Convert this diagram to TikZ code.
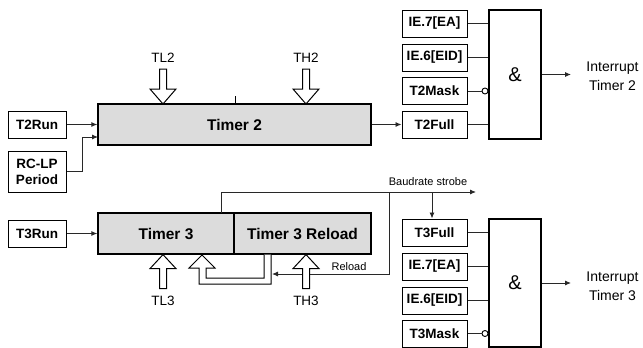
\documentclass[tikz,border=0pt]{standalone}
\usepackage{fontspec}
\setmainfont{Liberation Sans}
\usetikzlibrary{arrows.meta}
\definecolor{timergray}{RGB}{220,220,220}
\definecolor{linegray}{RGB}{40,40,40}
\newcommand{\dnblk}[2]{\draw[blk] (#1-3.5,#2) -- (#1+3.5,#2) -- (#1+3.5,#2+20) -- (#1+13,#2+20) -- (#1,#2+35) -- (#1-13,#2+20) -- (#1-3.5,#2+20) -- cycle;}
\newcommand{\upblk}[2]{\draw[blk] (#1,#2) -- (#1+13,#2+14) -- (#1+3.5,#2+14) -- (#1+3.5,#2+34) -- (#1-3.5,#2+34) -- (#1-3.5,#2+14) -- (#1-13,#2+14) -- cycle;}
\begin{document}
\begin{tikzpicture}[x=1pt,y=-1pt,
  lbl/.style={draw=black, line width=1pt, fill=white, font=\fontsize{13.5}{15}\selectfont\bfseries, inner sep=0pt, minimum width=65pt, minimum height=27pt},
  runbox/.style={lbl, minimum width=58pt},
  timer/.style={draw=black, line width=1.3pt, fill=timergray, font=\fontsize{15.5}{17}\selectfont\bfseries, minimum height=41pt, inner sep=0pt},
  gate/.style={draw=black, line width=1.1pt, minimum width=52pt, inner sep=0pt, font=\fontsize{20}{22}\selectfont},
  conn/.style={draw=linegray, line width=0.9pt},
  arr/.style={conn, -{Latex[length=6pt,width=5pt]}},
  blk/.style={draw=black, line width=1pt, fill=white},
  small/.style={font=\fontsize{11}{12}\selectfont, inner sep=0pt},
  sig/.style={font=\fontsize{13.5}{14}\selectfont, inner sep=0pt},
  inv/.style={circle, draw=black, line width=0.9pt, fill=white, minimum size=6pt, inner sep=0pt, anchor=east}
]
\useasboundingbox (0,0) rectangle (643,348);

% ---------- Timer 2 ----------
\node[timer, minimum width=273pt] (t2) at (234.5,124.5) {Timer 2};
\node[runbox] (t2run) at (37,124.5) {T2Run};
\node[runbox, minimum height=41pt, align=center, font=\fontsize{13.5}{16}\selectfont\bfseries] (rclp) at (37,171.5) {RC-LP\\Period};

\node[lbl] (ie7a) at (434.5,23.5) {IE.7[EA]};
\node[lbl] (ie6a) at (434.5,57.5) {IE.6[EID]};
\node[lbl] (t2mask) at (434.5,91) {T2Mask};
\node[lbl] (t2full) at (434.5,124.5) {T2Full};
\node[gate, minimum height=129pt] (gate2) at (515,74.5) {\&};
\node[font=\fontsize{14}{19}\selectfont, align=center, inner sep=0pt] (int2) at (612.5,76.5) {Interrupt\\Timer 2};
\coordinate (o2) at (571,74.5);

\draw[arr] (t2run.east) -- (t2.west |- t2run.east);
\coordinate (rcin) at (98,137);
\draw[arr] (rclp.east) -- (82,171.5) |- (rcin);
\draw[arr] (t2.east) -- (t2full.west);
\draw[conn] (ie7a.east) -- (ie7a.east -| gate2.west);
\draw[conn] (ie6a.east) -- (ie6a.east -| gate2.west);
\draw[conn] (t2full.east) -- (t2full.east -| gate2.west);
\node[inv] (inv2) at (t2mask.east -| gate2.west) {};
\draw[conn] (t2mask.east) -- (inv2.west);
\draw[arr] (gate2.east) -- (o2);

\draw[line width=1pt] (235,96) -- (235,104);
\node[sig] (tl2) at (163,58) {TL2};
\node[sig] (th2) at (306,58) {TH2};
\dnblk{163}{69}
\dnblk{306}{69}

% ---------- Timer 3 ----------
\node[timer, minimum width=136pt] (t3) at (166,233.5) {Timer 3};
\node[timer, minimum width=137pt] (t3r) at (302.5,233.5) {Timer 3 Reload};
\node[runbox] (t3run) at (37,233.5) {T3Run};

\node[lbl] (t3full) at (434.5,232.5) {T3Full};
\node[lbl] (ie7b) at (434.5,266.5) {IE.7[EA]};
\node[lbl] (ie6b) at (434.5,300.5) {IE.6[EID]};
\node[lbl] (t3mask) at (434.5,333.5) {T3Mask};
\node[gate, minimum height=128pt] (gate3) at (515,283) {\&};
\node[font=\fontsize{14}{19}\selectfont, align=center, inner sep=0pt] (int3) at (612.5,286.5) {Interrupt\\Timer 3};
\coordinate (o3) at (571,283);

\draw[arr] (t3run.east) -- (t3.west |- t3run.east);
\draw[conn] (t3full.east) -- (t3full.east -| gate3.west);
\draw[conn] (ie7b.east) -- (ie7b.east -| gate3.west);
\draw[conn] (ie6b.east) -- (ie6b.east -| gate3.west);
\node[inv] (inv3) at (t3mask.east -| gate3.west) {};
\draw[conn] (t3mask.east) -- (inv3.west);
\draw[arr] (gate3.east) -- (o3);

% baudrate strobe
\coordinate (bsrc) at (221,213);
\coordinate (bend) at (476,192);
\coordinate (bsplit) at (432,192);
\coordinate (rsplit) at (389,192);
\draw[arr] (bsrc) |- (bend);
\draw[arr] (bsplit) -- (bsplit |- t3full.north);
\node[small] (baud) at (428,182) {Baudrate strobe};

% reload path
\coordinate (rend) at (272,274);
\draw[arr] (rsplit) |- (rend);
\node[small] (rl) at (349,267) {Reload};

% hollow reload feedback arrow
\draw[blk] (264,254.6) -- (264,278) -- (206,278) -- (206,268) -- (215,268) -- (202,255) -- (189,268) -- (199,268) -- (199,284) -- (271,284) -- (271,254.6);

\upblk{163}{254.6}
\upblk{306}{254.6}
\node[sig] (tl3) at (163,301) {TL3};
\node[sig] (th3) at (306,301) {TH3};
\end{tikzpicture}
\end{document}
